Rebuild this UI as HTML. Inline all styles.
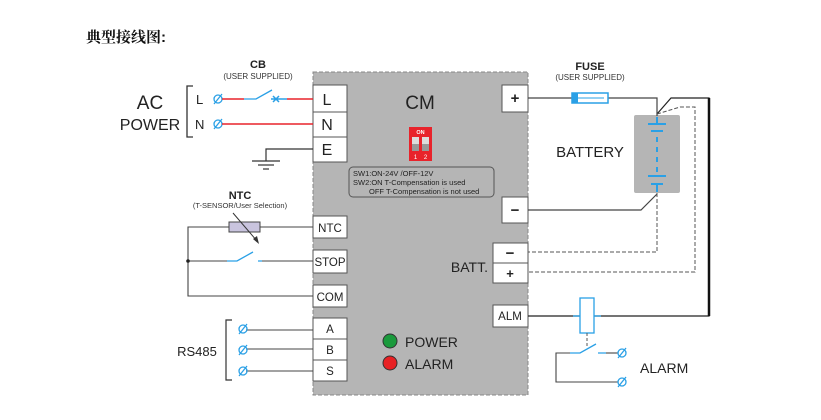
<!DOCTYPE html>
<html><head><meta charset="utf-8"><style>
html,body{margin:0;padding:0;background:#fff;}
svg{display:block;font-family:"Liberation Sans",Arial,sans-serif;}
</style></head><body>
<svg width="821" height="420" viewBox="0 0 821 420" xmlns="http://www.w3.org/2000/svg">
<text x="86" y="42" font-size="15" font-weight="bold" font-family="'Liberation Sans','Noto Serif CJK SC','Noto Sans CJK SC',sans-serif" fill="#111">典型接线图:</text>

<!-- CM box -->
<rect x="313" y="72" width="215" height="323" fill="#b5b5b5" stroke="#888" stroke-dasharray="4,2"/>
<text x="420" y="109" font-size="19" text-anchor="middle" fill="#222">CM</text>
<!-- DIP -->
<rect x="409" y="127" width="23" height="34" fill="#e8232b"/>
<text x="420.5" y="134" font-size="5.5" fill="#fff" text-anchor="middle" font-weight="bold">ON</text>
<rect x="412" y="137" width="7" height="14" fill="#ddd"/><rect x="422" y="137" width="7" height="14" fill="#ddd"/>
<rect x="412" y="144" width="7" height="7" fill="#999"/><rect x="422" y="144" width="7" height="7" fill="#999"/>
<text x="415.5" y="159" font-size="6" fill="#fff" text-anchor="middle">1</text>
<text x="425.5" y="159" font-size="6" fill="#fff" text-anchor="middle">2</text>
<rect x="349" y="167" width="145" height="30" rx="4" fill="none" stroke="#555"/>
<text font-size="7.5" fill="#222"><tspan x="353" y="176">SW1:ON-24V  /OFF-12V</tspan><tspan x="353" y="185">SW2:ON T-Compensation is used</tspan><tspan x="369" y="194">OFF T-Compensation is not used</tspan></text>
<circle cx="390" cy="341" r="7" fill="#1a9a3c" stroke="#333"/>
<circle cx="390" cy="363" r="7" fill="#e82124" stroke="#333"/>
<text x="405" y="347" font-size="14" fill="#222">POWER</text>
<text x="405" y="369" font-size="14" fill="#222">ALARM</text>
<text x="488" y="272" font-size="14" fill="#222" text-anchor="end">BATT.</text>

<!-- left terminals -->
<g fill="#fff" stroke="#555">
<rect x="313" y="85" width="34" height="27"/><rect x="313" y="112" width="34" height="25"/><rect x="313" y="137" width="34" height="25"/>
<rect x="313" y="216" width="34" height="22"/><rect x="313" y="250" width="34" height="23"/><rect x="313" y="285" width="34" height="22"/>
<rect x="313" y="318" width="34" height="21"/><rect x="313" y="339" width="34" height="21"/><rect x="313" y="360" width="34" height="21"/>
<rect x="502" y="85" width="26" height="27"/><rect x="502" y="197" width="26" height="26"/>
<rect x="493" y="243" width="35" height="20"/><rect x="493" y="263" width="35" height="20"/>
<rect x="493" y="305" width="35" height="22"/>
</g>
<g font-size="16" fill="#222" text-anchor="middle">
<text x="327" y="105">L</text><text x="327" y="130">N</text><text x="327" y="155">E</text>
</g>
<g font-size="11.5" fill="#222" text-anchor="middle">
<text x="330" y="232">NTC</text><text x="330" y="266">STOP</text><text x="330" y="301">COM</text>
<text x="330" y="333">A</text><text x="330" y="354">B</text><text x="330" y="375">S</text>
<text x="510" y="320">ALM</text>
</g>
<g font-size="15" font-weight="bold" fill="#222" text-anchor="middle">
<text x="515" y="103">+</text><text x="515" y="215">−</text><text x="510" y="258">−</text><text x="510" y="278" font-size="13">+</text>
</g>

<!-- AC -->
<text x="258" y="68" font-size="11" font-weight="bold" fill="#222" text-anchor="middle">CB</text>
<text x="258" y="79" font-size="8" fill="#333" text-anchor="middle">(USER SUPPLIED)</text>
<text x="150" y="109" font-size="19" fill="#222" text-anchor="middle">AC</text>
<text x="150" y="130" font-size="16" fill="#222" text-anchor="middle">POWER</text>
<path d="M193 86 H187 V137 H193" fill="none" stroke="#333" stroke-width="1.3"/>
<text x="196" y="104" font-size="13" fill="#222">L</text>
<text x="195" y="129" font-size="13" fill="#222">N</text>
<g stroke="#2aa0e6" stroke-width="1.3" fill="none">
<circle cx="218" cy="99" r="4"/><line x1="214" y1="104" x2="222" y2="94"/>
<circle cx="218" cy="124" r="4"/><line x1="214" y1="129" x2="222" y2="119"/>
<path d="M244 99 H256 L272 90"/><path d="M273 96 L279 102 M279 96 L273 102 M271 99 H287" stroke-width="1.5"/>
</g>
<g stroke="#e8232b" stroke-width="1.5">
<line x1="222" y1="99" x2="244" y2="99"/><line x1="287" y1="99" x2="313" y2="99"/>
<line x1="222" y1="124" x2="313" y2="124"/>
</g>
<g stroke="#333" stroke-width="1.2" fill="none">
<path d="M313 149 H266 V161"/><line x1="252" y1="161" x2="280" y2="161"/><line x1="258" y1="165" x2="274" y2="165"/><line x1="263" y1="169" x2="269" y2="169"/>
</g>

<!-- NTC -->
<text x="240" y="199" font-size="11" font-weight="bold" fill="#222" text-anchor="middle">NTC</text>
<text x="240" y="208" font-size="7.5" fill="#333" text-anchor="middle">(T-SENSOR/User Selection)</text>
<g stroke="#444" stroke-width="1.1" fill="none">
<path d="M313 227 H188 V296 H313"/><line x1="188" y1="261" x2="227" y2="261"/><line x1="262" y1="261" x2="313" y2="261"/>
<line x1="313" y1="330" x2="246" y2="330"/><line x1="313" y1="349" x2="246" y2="349"/><line x1="313" y1="371" x2="246" y2="371"/>
</g>
<rect x="229" y="222" width="31" height="10" fill="#c9c4de" stroke="#444"/>
<line x1="233" y1="213" x2="257" y2="241" stroke="#333"/>
<path d="M259 244 L253 239 L257 236 Z" fill="#333"/>
<circle cx="188" cy="261" r="1.8" fill="#222"/>
<path d="M227 261 H237 L253 252 M258 261 H262" stroke="#2aa0e6" stroke-width="1.3" fill="none"/>

<!-- RS485 -->
<text x="197" y="356" font-size="13" fill="#222" text-anchor="middle">RS485</text>
<path d="M232 320 H226 V380 H232" fill="none" stroke="#333" stroke-width="1.2"/>
<g stroke="#2aa0e6" stroke-width="1.3" fill="none">
<circle cx="243" cy="329" r="4"/><line x1="239" y1="334" x2="247" y2="324"/>
<circle cx="243" cy="350" r="4"/><line x1="239" y1="355" x2="247" y2="345"/>
<circle cx="243" cy="371" r="4"/><line x1="239" y1="376" x2="247" y2="366"/>
</g>

<!-- right side -->
<text x="590" y="70" font-size="11" font-weight="bold" fill="#222" text-anchor="middle">FUSE</text>
<text x="590" y="80" font-size="8" fill="#333" text-anchor="middle">(USER SUPPLIED)</text>
<rect x="634" y="115" width="46" height="78" rx="2" fill="#b5b5b5"/>
<text x="590" y="157" font-size="15" fill="#222" text-anchor="middle">BATTERY</text>
<g stroke="#444" stroke-width="1.2" fill="none">
<path d="M528 98 H657 V116"/>
<path d="M528 210 H641 L657 194"/>
<path d="M657 114 L671 98 H709 V316 H528" stroke="#222"/>
</g>
<line x1="709" y1="98" x2="709" y2="316" stroke="#111" stroke-width="2.5"/>
<g stroke="#555" stroke-width="1" fill="none" stroke-dasharray="4,2">
<path d="M657 114 L680 107 H695 V272 H528"/>
<path d="M657 193 V252 H528"/>
</g>
<rect x="572" y="93" width="36" height="10" fill="#fff" stroke="#2aa0e6" stroke-width="1.5"/>
<rect x="572" y="93" width="6" height="10" fill="#2aa0e6"/>
<line x1="578" y1="98" x2="604" y2="98" stroke="#2aa0e6" stroke-width="1"/>
<g stroke="#2aa0e6" stroke-width="2" fill="none">
<line x1="648" y1="124" x2="666" y2="124"/><line x1="651" y1="131" x2="663" y2="131"/>
<line x1="657" y1="117" x2="657" y2="124"/>
<line x1="657" y1="137" x2="657" y2="172" stroke-dasharray="5,5"/>
<line x1="648" y1="176" x2="666" y2="176"/><line x1="651" y1="184" x2="663" y2="184"/>
<line x1="657" y1="184" x2="657" y2="192"/>
</g>

<!-- relay -->
<rect x="580" y="298" width="14" height="35" fill="#fff" stroke="#2aa0e6" stroke-width="1.3"/>
<line x1="573" y1="316" x2="580" y2="316" stroke="#2aa0e6" stroke-width="1.3"/>
<line x1="594" y1="316" x2="601" y2="316" stroke="#2aa0e6" stroke-width="1.3"/>
<line x1="587" y1="333" x2="587" y2="348" stroke="#555" stroke-dasharray="3,2"/>
<g stroke="#444" stroke-width="1.1" fill="none">
<path d="M570 353 H556 V382 H618"/><line x1="606" y1="353" x2="618" y2="353"/>
</g>
<path d="M570 353 H580 L596 344 M598 353 H606" stroke="#2aa0e6" stroke-width="1.3" fill="none"/>
<g stroke="#2aa0e6" stroke-width="1.3" fill="none">
<circle cx="622" cy="353" r="4"/><line x1="618" y1="358" x2="626" y2="348"/>
<circle cx="622" cy="382" r="4"/><line x1="618" y1="387" x2="626" y2="377"/>
</g>
<text x="640" y="373" font-size="14" fill="#222">ALARM</text>
</svg>
</body></html>
